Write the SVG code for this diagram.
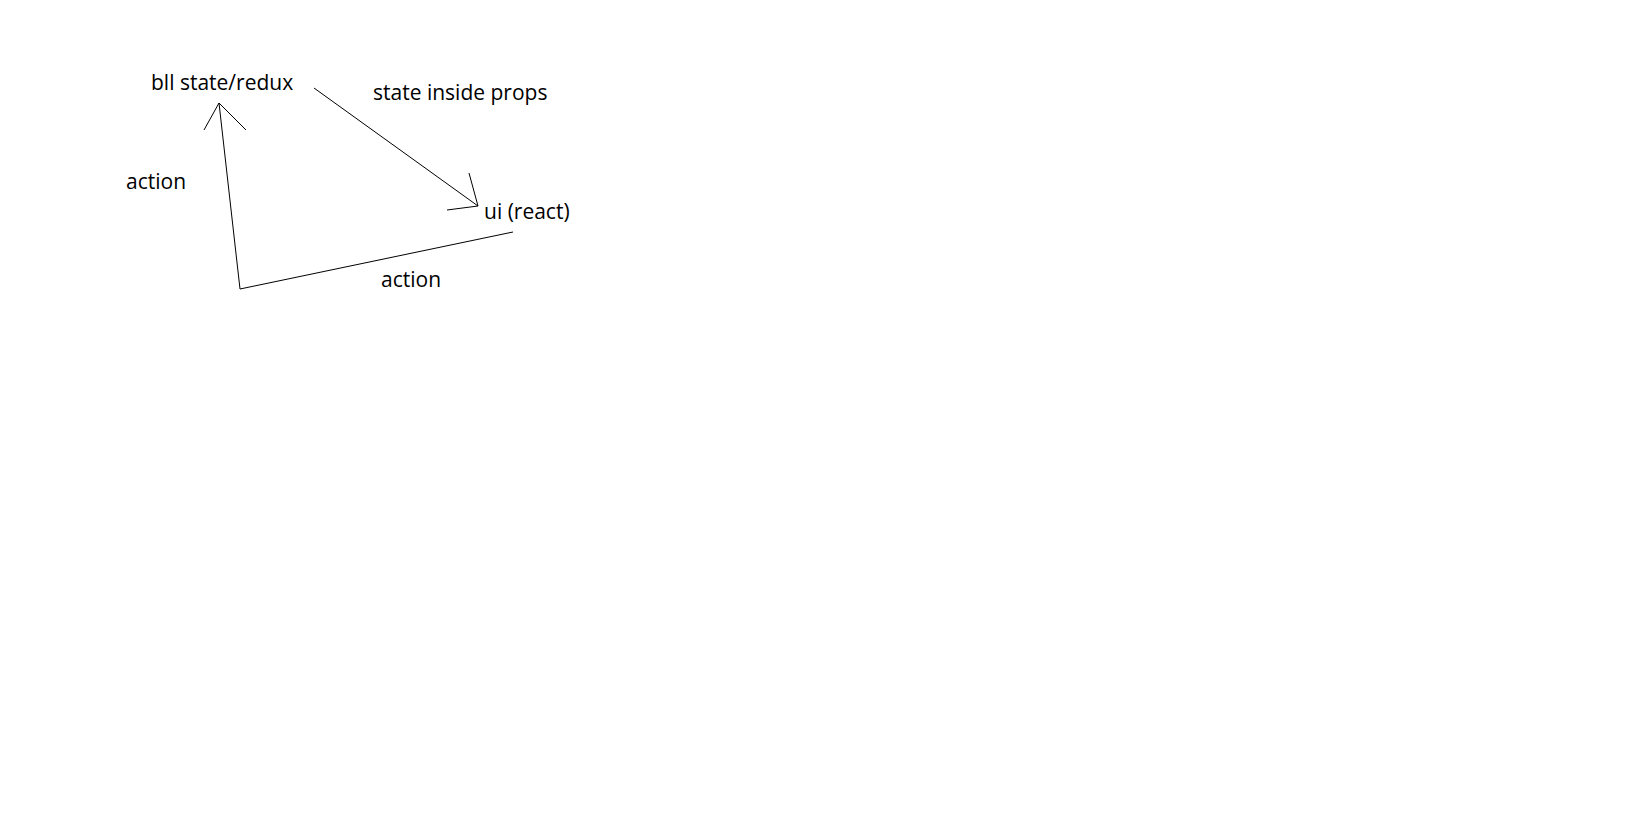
<svg xmlns="http://www.w3.org/2000/svg" width="1635" height="816" viewBox="0 0 1635 816">
<style>
text{font-family:"Open Sans","Noto Sans",sans-serif;font-size:21px;fill:#000}
.c{stroke:#000;stroke-width:1;fill:none}
</style>
<rect width="1635" height="816" fill="#fff"/>
<g id="bll"><text x="151" y="90">bll state/redux</text></g>
<g id="ui"><text x="484" y="219">ui (react)</text></g>
<g id="labels">
<text x="373" y="100">state inside props</text>
<text x="126" y="189">action</text>
<text x="381" y="287">action</text>
</g>
<g id="connectors">
<path class="c" d="M314 88 L478 206"/>
<path class="c" d="M469 173 L478 206 L447 210"/>
<path class="c" d="M513 232 L240 289 L219 103"/>
<path class="c" d="M204 130 L219 103 L246 130"/>
</g>
</svg>
